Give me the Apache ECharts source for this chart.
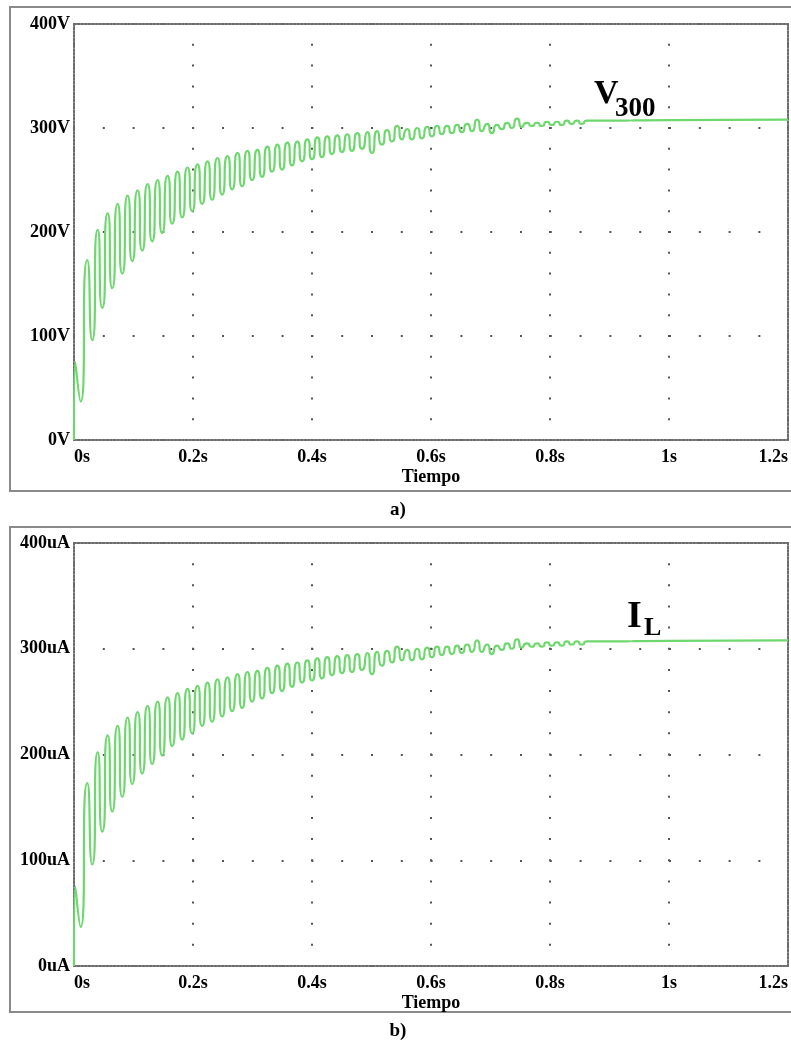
<!DOCTYPE html>
<html>
<head>
<meta charset="utf-8">
<script src="https://cdn.jsdelivr.net/npm/echarts@6/dist/echarts.min.js"></script>
<style>
html, body { margin: 0; padding: 0; background: #fff; }
#chart { width: 791px; height: 1049px; }
</style>
</head>
<body>
<div id="chart"></div>
<script>
// tiempo (s) de cada pico / valle
const tiempo = [
    0, 0.002, 0.0112,
    0.0223, 0.0307, 0.0398, 0.0475, 0.0566, 0.0643, 0.0733, 0.0811, 0.0901, 0.0979,
    0.1069, 0.1146, 0.1237, 0.1314, 0.1405, 0.1482, 0.1573, 0.1650, 0.1741, 0.1818,
    0.1908, 0.1986, 0.2076, 0.2153, 0.2244, 0.2321, 0.2412, 0.2489, 0.2580, 0.2657,
    0.2748, 0.2825, 0.2915, 0.2993, 0.3083, 0.3160, 0.3251, 0.3328, 0.3419, 0.3496,
    0.3587, 0.3664, 0.3755, 0.3832, 0.3922, 0.4000, 0.4090, 0.4167, 0.4258, 0.4335,
    0.4426, 0.4503, 0.4594, 0.4671, 0.4762, 0.4839, 0.4929, 0.5007, 0.5097, 0.5174,
    0.5265, 0.5342, 0.5433, 0.5510, 0.5601, 0.5678, 0.5769, 0.5846, 0.5937, 0.6014,
    0.6104, 0.6182, 0.6272, 0.6349, 0.6440, 0.6517, 0.6608, 0.6685, 0.6776, 0.6853,
    0.6944, 0.7021, 0.7111, 0.7189, 0.7279, 0.7356, 0.7447, 0.7524, 0.7615, 0.7692,
    0.7783, 0.7860, 0.7951, 0.8028, 0.8118, 0.8196, 0.8286, 0.8363, 0.8454, 0.8531,
    0.8622, 0.8711, 1.0, 1.2
]
// a) V300 en voltios
const v300 = [
    0, 75, 37,
    173, 96, 202, 127, 218, 146, 227, 160,
    235, 172, 240, 182, 246, 191, 250, 199, 254, 208,
    258, 214, 262, 220, 265, 227, 268, 231, 271, 236,
    273, 241, 276, 244, 278, 250, 279, 253, 282, 258,
    284, 260, 286, 264, 287, 268, 289, 270, 291, 272,
    292, 275, 293, 277, 294, 278, 295, 280, 296, 276,
    297, 284, 298, 287, 302, 289, 299, 289, 300, 290,
    301, 292, 302, 294, 302, 295, 303, 296, 304, 297,
    308, 297, 304, 295, 303, 299, 305, 300, 309, 301,
    305, 302, 305, 302, 306, 303, 306, 303, 307, 304,
    307, 304, 307, 307, 307.5, 308
]
// b) IL en uA (misma forma de onda que en a)
const iL = [
    0, 75, 37,
    173, 96, 202, 127, 218, 146, 227, 160,
    235, 172, 240, 182, 246, 191, 250, 199, 254, 208,
    258, 214, 262, 220, 265, 227, 268, 231, 271, 236,
    273, 241, 276, 244, 278, 250, 279, 253, 282, 258,
    284, 260, 286, 264, 287, 268, 289, 270, 291, 272,
    292, 275, 293, 277, 294, 278, 295, 280, 296, 276,
    297, 284, 298, 287, 302, 289, 299, 289, 300, 290,
    301, 292, 302, 294, 302, 295, 303, 296, 304, 297,
    308, 297, 304, 295, 303, 299, 305, 300, 309, 301,
    305, 302, 305, 302, 306, 303, 306, 303, 307, 304,
    307, 304, 307, 307, 307.5, 308
]

const font = 'Liberation Serif'
const borderStyle = { color: '#6a6a6a', width: 2, type: [2, 1.6] }

function xAxes(gi, vDot) {
    return [{
        gridIndex: gi,
        type: 'value',
        min: 0,
        max: 1.2,
        interval: 0.2,
        name: 'Tiempo',
        nameLocation: 'middle',
        nameGap: 28,
        nameTextStyle: { fontFamily: font, fontWeight: 'bold', fontSize: 18, color: '#000' },
        axisLine: { onZero: false, lineStyle: borderStyle },
        axisTick: { show: false },
        axisLabel: {
            margin: 8,
            fontFamily: font,
            fontWeight: 'bold',
            fontSize: 18,
            color: '#000',
            alignMinLabel: 'left',
            alignMaxLabel: 'right',
            formatter: function (v) {
                return Math.round(v * 10) / 10 + 's'
            }
        },
        splitLine: {
            show: true,
            lineStyle: { color: '#555', width: 2, type: [2, vDot - 2], dashOffset: 1 }
        }
    }, {
        gridIndex: gi,
        type: 'value',
        position: 'top',
        min: 0,
        max: 1.2,
        axisLine: { onZero: false, lineStyle: borderStyle },
        axisTick: { show: false },
        axisLabel: { show: false },
        splitLine: { show: false }
    }]
}

function yAxes(gi, unit) {
    return [{
        gridIndex: gi,
        type: 'value',
        min: 0,
        max: 400,
        interval: 100,
        axisLine: { onZero: false, lineStyle: borderStyle },
        axisTick: { show: false },
        axisLabel: {
            margin: 4,
            fontFamily: font,
            fontWeight: 'bold',
            fontSize: 18,
            color: '#000',
            formatter: function (v) {
                return v + unit
            }
        },
        splitLine: {
            show: true,
            lineStyle: { color: '#555', width: 2, type: [2, 27.8], dashOffset: 1 }
        }
    }, {
        gridIndex: gi,
        type: 'value',
        position: 'right',
        min: 0,
        max: 400,
        axisLine: { onZero: false, lineStyle: borderStyle },
        axisTick: { show: false },
        axisLabel: { show: false },
        splitLine: { show: false }
    }]
}

function serie(xi, yi, vals) {
    return {
        type: 'line',
        xAxisIndex: xi,
        yAxisIndex: yi,
        showSymbol: false,
        smooth: 1,
        z: 5,
        lineStyle: { color: '#6ed86e', width: 2.2 },
        data: tiempo.map((t, i) => [t, vals[i]])
    }
}

const myChart = echarts.init(document.getElementById('chart'))
myChart.setOption({
    animation: false,
    backgroundColor: '#fff',
    grid: [
        { left: 74, top: 24, width: 715, height: 416 },
        { left: 74, top: 543, width: 715, height: 423 }
    ],
    xAxis: [...xAxes(0, 20.8), ...xAxes(1, 21.15)],
    yAxis: [...yAxes(0, 'V'), ...yAxes(1, 'uA')],
    series: [serie(0, 0, v300), serie(2, 2, iL)],
    graphic: [
        { type: 'rect', shape: { x: 10, y: 7, width: 800, height: 484 }, style: { fill: 'none', stroke: '#8a8a8a', lineWidth: 2 } },
        { type: 'rect', shape: { x: 10, y: 527, width: 800, height: 485 }, style: { fill: 'none', stroke: '#8a8a8a', lineWidth: 2 } },
        { type: 'text', x: 398, y: 510, style: { text: 'a)', font: 'bold 19px "Liberation Serif"', fill: '#000', textAlign: 'center', textVerticalAlign: 'middle' } },
        { type: 'text', x: 398, y: 1031, style: { text: 'b)', font: 'bold 19px "Liberation Serif"', fill: '#000', textAlign: 'center', textVerticalAlign: 'middle' } },
        { type: 'text', x: 594, y: 94, z: 10, style: { text: 'V', font: 'bold 34px "Liberation Serif"', fill: '#000', textVerticalAlign: 'middle' } },
        { type: 'text', x: 615, y: 109, z: 10, style: { text: '300', font: 'bold 27px "Liberation Serif"', fill: '#000', textVerticalAlign: 'middle' } },
        { type: 'text', x: 627, y: 617, z: 10, style: { text: 'I', font: 'bold 38px "Liberation Serif"', fill: '#000', textVerticalAlign: 'middle' } },
        { type: 'text', x: 644, y: 628, z: 10, style: { text: 'L', font: 'bold 26px "Liberation Serif"', fill: '#000', textVerticalAlign: 'middle' } }
    ]
})
</script>
</body>
</html>
